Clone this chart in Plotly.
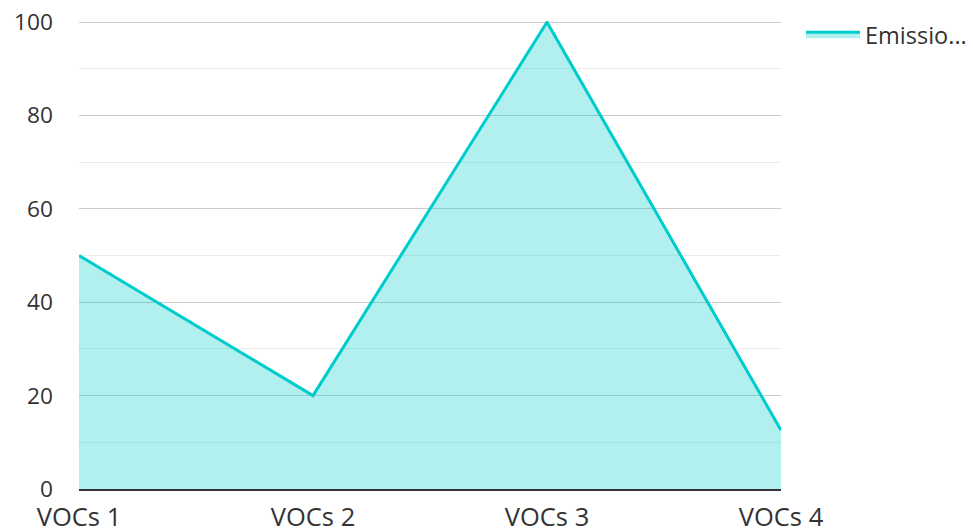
import plotly.graph_objects as go

categories = ["VOCs 1", "VOCs 2", "VOCs 3", "VOCs 4"]
values = [50, 20, 100, 12.6]
series_name = "Emissio..."
y_ticks = [0, 20, 40, 60, 80, 100]

fig = go.Figure()
fig.add_trace(go.Scatter(
    x=categories, y=values, name=series_name, mode="lines",
    line=dict(color="#00cccc", width=3),
    fill="tozeroy", fillcolor="rgba(0,204,204,0.3)",
    showlegend=True,
))

fig.update_layout(
    width=973, height=528,
    margin=dict(l=71, r=200, t=13, b=47, autoexpand=False),
    paper_bgcolor="white", plot_bgcolor="white",
    font=dict(family="Open Sans", size=22, color="#333333"),
    showlegend=True,
    legend=dict(x=1.0285, y=1.018, xanchor="left", yanchor="top",
                font=dict(size=23.5, color="#333333"), itemwidth=54,
                bgcolor="rgba(0,0,0,0)"),
    xaxis=dict(
        type="category", range=[0, 3], showgrid=False, automargin=False,
        showline=True, linecolor="#333333", linewidth=2,
        ticks="", ticklabelstandoff=4, zeroline=False,
        ticklabeloverflow="allow", tickfont=dict(size=25.5),
    ),
    yaxis=dict(
        range=[0, 100.25], tickvals=y_ticks, showgrid=True, automargin=False,
        gridcolor="#cccccc", gridwidth=1, zeroline=False,
        showline=False, ticks="", ticklabelstandoff=25,
        ticklabeloverflow="allow", tickfont=dict(size=22.7),
        minor=dict(dtick=10, showgrid=True, gridcolor="#ebebeb", gridwidth=1),
    ),
)

fig.write_html("out.html")
